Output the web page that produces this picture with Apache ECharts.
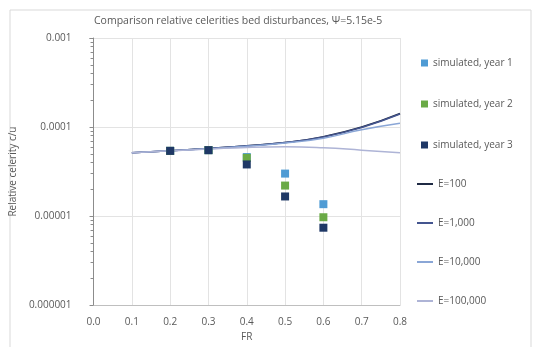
<!DOCTYPE html>
<html>
<head>
<meta charset="utf-8">
<script src="https://cdn.jsdelivr.net/npm/echarts@6/dist/echarts.min.js"></script>
<style>
  html, body { margin: 0; padding: 0; background: #fff; }
  #main { width: 534px; height: 347px; }
</style>
</head>
<body>
<div id="main"></div>
<script>
// Froude numbers for the simulated points
const simFr = [0.2, 0.3, 0.4, 0.5, 0.6];
const year1 = [5.4e-5, 5.5e-5, 4.6e-5, 3.0e-5, 1.36e-5];
const year2 = [5.4e-5, 5.5e-5, 4.5e-5, 2.2e-5, 9.7e-6];
const year3 = [5.4e-5, 5.5e-5, 3.8e-5, 1.66e-5, 7.4e-6];

// analytical curves, read at every 0.1
const curveFr = [0.1, 0.2, 0.3, 0.4, 0.5, 0.6, 0.7, 0.8];
const e100 = [5.15e-5, 5.4e-5, 5.75e-5, 6.15e-5, 6.7e-5, 7.8e-5, 1.0e-4, 1.42e-4];
const e1000 = [5.15e-5, 5.4e-5, 5.75e-5, 6.15e-5, 6.7e-5, 7.75e-5, 9.9e-5, 1.4e-4];
const e10000 = [5.15e-5, 5.4e-5, 5.7e-5, 6.1e-5, 6.6e-5, 7.5e-5, 9.3e-5, 1.1e-4];
const e100000 = [5.15e-5, 5.4e-5, 5.65e-5, 5.9e-5, 6.0e-5, 5.85e-5, 5.5e-5, 5.15e-5];

const yTickLabels = ['0.000001', '0.00001', '0.0001', '0.001'];
const textColor = '#595959';
const font = 'Open Sans';

function pairs(xs, ys) {
  return xs.map((x, i) => [x, ys[i]]);
}

function scatter(name, ys, color) {
  return {
    name: name,
    type: 'scatter',
    symbol: 'rect',
    symbolSize: 8,
    itemStyle: { color: color, opacity: 1 },
    data: pairs(simFr, ys),
    z: 5
  };
}

function curve(name, ys, color, width) {
  return {
    name: name,
    type: 'line',
    smooth: true,
    symbol: 'none',
    lineStyle: { color: color, width: width },
    itemStyle: { color: color },
    data: pairs(curveFr, ys),
    z: 3
  };
}

const chart = echarts.init(document.getElementById('main'));

chart.setOption({
  animation: false,
  textStyle: { fontFamily: font },
  graphic: [{
    type: 'rect',
    shape: { x: 10, y: 10, width: 521, height: 345 },
    style: { fill: 'none', stroke: '#d9d9d9', lineWidth: 1 }
  }],
  title: {
    text: 'Comparison relative celerities bed disturbances, \u03A8=5.15e-5',
    left: 89,
    top: 11,
    textStyle: { fontSize: 10.5, fontWeight: 'normal', color: textColor, fontFamily: font }
  },
  grid: { left: 92, right: 134, top: 38, bottom: 32 },
  legend: [{
    orient: 'vertical',
    left: 416,
    top: 53,
    itemWidth: 7,
    itemHeight: 7,
    itemGap: 31,
    icon: 'rect',
    textStyle: { fontSize: 10, color: textColor, fontFamily: font },
    data: ['simulated, year 1', 'simulated, year 2', 'simulated, year 3']
  }, {
    orient: 'vertical',
    left: 412,
    top: 174,
    itemWidth: 16,
    itemHeight: 2,
    itemGap: 29,
    icon: 'rect',
    textStyle: { fontSize: 10, color: textColor, fontFamily: font },
    data: ['E=100', 'E=1,000', 'E=10,000', 'E=100,000']
  }],
  xAxis: {
    type: 'value',
    min: 0,
    max: 0.8,
    interval: 0.1,
    name: 'FR',
    nameLocation: 'middle',
    nameGap: 24,
    nameTextStyle: { fontSize: 10, color: textColor },
    axisLine: { show: true, lineStyle: { color: '#bfbfbf' } },
    axisTick: { show: false },
    axisLabel: { fontSize: 10, color: textColor, margin: 12, formatter: v => v.toFixed(1) },
    splitLine: { show: true, lineStyle: { color: '#e3e3e3' } }
  },
  yAxis: {
    type: 'log',
    logBase: 10,
    min: 1e-6,
    max: 1e-3,
    name: 'Relative celerity c/u',
    nameLocation: 'middle',
    nameGap: 73,
    nameTextStyle: { fontSize: 10, color: textColor },
    axisLine: { show: true, lineStyle: { color: '#8c8c8c' } },
    axisTick: { show: true, inside: false, length: 4, lineStyle: { color: '#8c8c8c' } },
    minorTick: { show: true, splitNumber: 9, length: 3, lineStyle: { color: '#8c8c8c' } },
    axisLabel: {
      fontSize: 10,
      color: textColor,
      margin: 22,
      formatter: v => yTickLabels[Math.round(Math.log10(v)) + 6]
    },
    splitLine: { show: true, lineStyle: { color: '#e3e3e3' } }
  },
  series: [
    curve('E=100', e100, '#1f2a44', 1.5),
    curve('E=1,000', e1000, '#44558f', 1.5),
    curve('E=10,000', e10000, '#8aa6d6', 1.5),
    curve('E=100,000', e100000, '#aeb4d6', 1.5),
    scatter('simulated, year 1', year1, '#4f9bd4'),
    scatter('simulated, year 2', year2, '#6aaa46'),
    scatter('simulated, year 3', year3, '#1f3866')
  ]
});
</script>
</body>
</html>
